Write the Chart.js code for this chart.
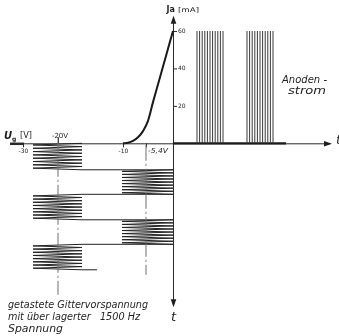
<!DOCTYPE html>
<html><head><meta charset="utf-8">
<script src="https://cdn.jsdelivr.net/npm/chart.js@4/dist/chart.umd.min.js"></script>
<style>html,body{margin:0;padding:0;background:#fff}#wrap{width:339px;height:336px}</style>
</head><body><div id="wrap"><canvas id="c" width="339" height="336"></canvas></div>
<script>
// ---- tube characteristic Ia(Ug) ----
const gridVoltage  = [-10, -9, -8, -7, -6, -5, -4, -3, -2, -1, 0];
const anodeCurrent = [0, 0.3, 1.3, 3.2, 6.5, 12, 22, 31.5, 41, 50.5, 60];

// ---- gated grid bias with superimposed 1500 Hz (time runs downward) ----
const gateEdges      = [0, 5.3, 10.2, 15.3, 20.2, 25.3];
const gateSwingLow   = [-28, -10.2, -28, -10.2, -28];
const gateSwingHigh  = [-18.2, 0, -18.2, 0, -18.2];
const gateHalfSwings = [16, 16, 16, 16, 16];
const gateTailEnd    = -15.2;
const biasLevels     = [-23, -5.4];
const biasLineStart  = [-1.3, 0.3];
const biasLineEnd    = [30.3, 26.3];

// ---- anode current bursts (time runs to the right) ----
const anodeBurstStart  = [4.8, 14.8];
const anodeBurstEnd    = [10.0, 20.0];
const anodeBurstPeak   = [60, 60];
const anodePulses      = [11, 11];
const anodeBaselineEnd = 22.6;

// ---- ticks & labels ----
const currentTicks      = [20, 40, 60];
const currentTickLabels = ['20', '40', '60'];
const voltageTicks      = [-30, -10, -5.4];
const voltageTickLabels = ['-30', '-10', '-5,4V'];
const biasMarkLabel     = '-20V';
const currentAxisTitle  = ['Ja', '[mA]'];
const voltageAxisTitle  = ['U', 'g', '[V]'];
const timeLabel         = 't';
const anodeText         = ['Anoden -', 'strom'];
const gateText          = ['getastete Gittervorspannung', 'mit über lagerter   1500 Hz', 'Spannung'];

// build polylines from the values above
const curvePts = gridVoltage.map((v, i) => ({x: v, y: anodeCurrent[i]}));
const gatePts = [];
for (let i = 0; i < gateSwingLow.length; i++) {
  const t0 = gateEdges[i], t1 = gateEdges[i + 1], n = gateHalfSwings[i];
  for (let k = 0; k <= n; k++) {
    gatePts.push({x: k % 2 === 0 ? gateSwingHigh[i] : gateSwingLow[i], y: t0 + (t1 - t0) * k / n});
  }
}
gatePts.push({x: gateTailEnd, y: gateEdges[gateEdges.length - 1]});
const anodePts = [];
for (let i = 0; i < anodeBurstStart.length; i++) {
  const n = anodePulses[i];
  for (let k = 0; k < n; k++) {
    const t = anodeBurstStart[i] + (anodeBurstEnd[i] - anodeBurstStart[i]) * k / (n - 1);
    anodePts.push({x: t, y: 0}, {x: t, y: anodeBurstPeak[i]}, {x: NaN, y: NaN});
  }
}
const baselinePts = [{x: 0, y: 0}, {x: anodeBaselineEnd, y: 0}];
const biasLineSets = biasLevels.map((v, i) => ({
  data: [{x: v, y: biasLineStart[i]}, {x: v, y: biasLineEnd[i]}],
  xAxisID: 'xV', yAxisID: 'yT', borderColor: '#6e6e6e', borderWidth: 1,
  borderDash: [16, 3, 2, 3], pointRadius: 0, showLine: true
}));

function txt(ctx, s, x, y, font, o) {
  o = o || {};
  ctx.save();
  ctx.font = font; ctx.fillStyle = o.color || '#1e1e1e';
  ctx.textBaseline = o.base || 'middle'; ctx.textAlign = o.align || 'left';
  if (o.width) {
    const w = ctx.measureText(s).width;
    ctx.translate(x, y); ctx.scale(o.width / w, 1); ctx.fillText(s, 0, 0);
  } else ctx.fillText(s, x, y);
  ctx.restore();
}

const drawing = {
  id: 'drawing',
  beforeDatasetsDraw(chart) {
    const c = chart.ctx, s = chart.scales;
    const XV = v => s.xV.getPixelForValue(v), XT = v => s.xT.getPixelForValue(v);
    const YI = v => s.yI.getPixelForValue(v), YT = v => s.yT.getPixelForValue(v);
    const x0 = XV(0), y0 = YI(0);
    c.save();
    c.strokeStyle = '#2a2a2a'; c.fillStyle = '#1e1e1e';
    c.lineWidth = 1;
    c.beginPath(); c.moveTo(XV(-32.6), y0 + 0.5); c.lineTo(XT(31.4), y0 + 0.5); c.stroke();
    c.lineWidth = 2.5;
    c.beginPath(); c.moveTo(XV(-32.6), y0 + 0.5); c.lineTo(XV(-29.8), y0 + 0.5); c.stroke();
    c.lineWidth = 1;
    c.beginPath(); c.moveTo(x0 + 0.5, YI(66)); c.lineTo(x0 + 0.5, YT(32)); c.stroke();
    const ya = YI(68.2);
    c.beginPath(); c.moveTo(x0 + 0.5, ya); c.lineTo(x0 - 2.3, ya + 8); c.lineTo(x0 + 3.3, ya + 8); c.closePath(); c.fill();
    const yb = YT(32.8);
    c.beginPath(); c.moveTo(x0 + 0.5, yb); c.lineTo(x0 - 2.3, yb - 8); c.lineTo(x0 + 3.3, yb - 8); c.closePath(); c.fill();
    const xa = XT(31.8);
    c.beginPath(); c.moveTo(xa, y0 + 0.5); c.lineTo(xa - 8, y0 - 2.3); c.lineTo(xa - 8, y0 + 3.3); c.closePath(); c.fill();
    c.lineWidth = 1;
    currentTicks.forEach(v => { c.beginPath(); c.moveTo(x0, YI(v) + 0.5); c.lineTo(x0 + 4, YI(v) + 0.5); c.stroke(); });
    voltageTicks.forEach(v => { c.beginPath(); c.moveTo(XV(v) + 0.5, y0); c.lineTo(XV(v) + 0.5, y0 + 4); c.stroke(); });
    c.beginPath(); c.moveTo(XV(biasLevels[0]) + 0.5, y0 - 6); c.lineTo(XV(biasLevels[0]) + 0.5, y0); c.stroke();
    c.restore();
  },
  afterDraw(chart) {
    const c = chart.ctx, s = chart.scales;
    const XV = v => s.xV.getPixelForValue(v), XT = v => s.xT.getPixelForValue(v);
    const YI = v => s.yI.getPixelForValue(v), YT = v => s.yT.getPixelForValue(v);
    const x0 = XV(0), y0 = YI(0);
    const sm = '6px "DejaVu Sans"';
    currentTicks.forEach((v, i) => txt(c, currentTickLabels[i], x0 + 5, YI(v) + 0.5, sm));
    voltageTicks.forEach((v, i) => {
      if (i < 2) txt(c, voltageTickLabels[i], XV(v) + 0.5, y0 + 8, sm, {align: 'center'});
      else txt(c, voltageTickLabels[i], XV(v) + 2, y0 + 7.5, 'italic 7px "DejaVu Sans"', {width: 20});
    });
    txt(c, biasMarkLabel, XV(biasLevels[0]) + 2, y0 - 7.5, '7px "DejaVu Sans"', {align: 'center'});
    txt(c, currentAxisTitle[0], x0 - 6.5, YI(71.2), 'bold 8px "DejaVu Sans"');
    txt(c, currentAxisTitle[1], x0 + 5, YI(71.2), '6.5px "DejaVu Sans"', {width: 21});
    txt(c, voltageAxisTitle[0], XV(-33.8), y0 - 7, 'italic bold 10px "DejaVu Sans"');
    txt(c, voltageAxisTitle[1], XV(-32.2), y0 - 3.5, 'bold 6px "DejaVu Sans"');
    txt(c, voltageAxisTitle[2], XV(-30.6), y0 - 7.5, '9px "DejaVu Sans"', {width: 12});
    txt(c, timeLabel, XT(32.6), y0 - 3, 'italic 13px "DejaVu Sans"');
    txt(c, timeLabel, x0 - 2, YT(34.9), 'italic 13px "DejaVu Sans"');
    const hand = 'italic 11px "DejaVu Sans"';
    txt(c, anodeText[0], XT(21.8), YI(33.6), hand, {width: 45});
    txt(c, anodeText[1], XT(23.0), YI(27.6), hand, {width: 38});
    txt(c, gateText[0], XV(-33), YT(32.3), hand, {width: 140});
    txt(c, gateText[1], XV(-33), YT(34.7), hand, {width: 132});
    txt(c, gateText[2], XV(-33), YT(37.1), hand, {width: 55});
  }
};

new Chart(document.getElementById('c'), {
  type: 'scatter',
  data: {
    datasets: [
      ...biasLineSets,
      {data: gatePts, xAxisID: 'xV', yAxisID: 'yT', borderColor: '#222222', borderWidth: 1, pointRadius: 0, showLine: true, spanGaps: false},
      {data: anodePts, xAxisID: 'xT', yAxisID: 'yI', borderColor: '#3a3a3a', borderWidth: 1, pointRadius: 0, showLine: true, spanGaps: false},
      {data: baselinePts, xAxisID: 'xT', yAxisID: 'yI', borderColor: '#1a1a1a', borderWidth: 2.2, pointRadius: 0, showLine: true},
      {data: curvePts, xAxisID: 'xV', yAxisID: 'yI', borderColor: '#1a1a1a', borderWidth: 2, pointRadius: 0, showLine: true, cubicInterpolationMode: 'monotone'}
    ]
  },
  options: {
    responsive: false, animation: false, devicePixelRatio: 1,
    layout: {padding: 0},
    plugins: {legend: {display: false}, tooltip: {enabled: false}, title: {display: false}},
    scales: {
      xV: {type: 'linear', axis: 'x', display: false, min: -34.6, max: 33.2},
      xT: {type: 'linear', axis: 'x', display: false, min: -34.6, max: 33.2},
      yI: {type: 'linear', axis: 'y', display: false, min: -102.94, max: 76.55},
      yT: {type: 'linear', axis: 'y', display: false, reverse: true, min: -28.66, max: 38.54}
    }
  },
  plugins: [drawing]
});
</script>
</body></html>
